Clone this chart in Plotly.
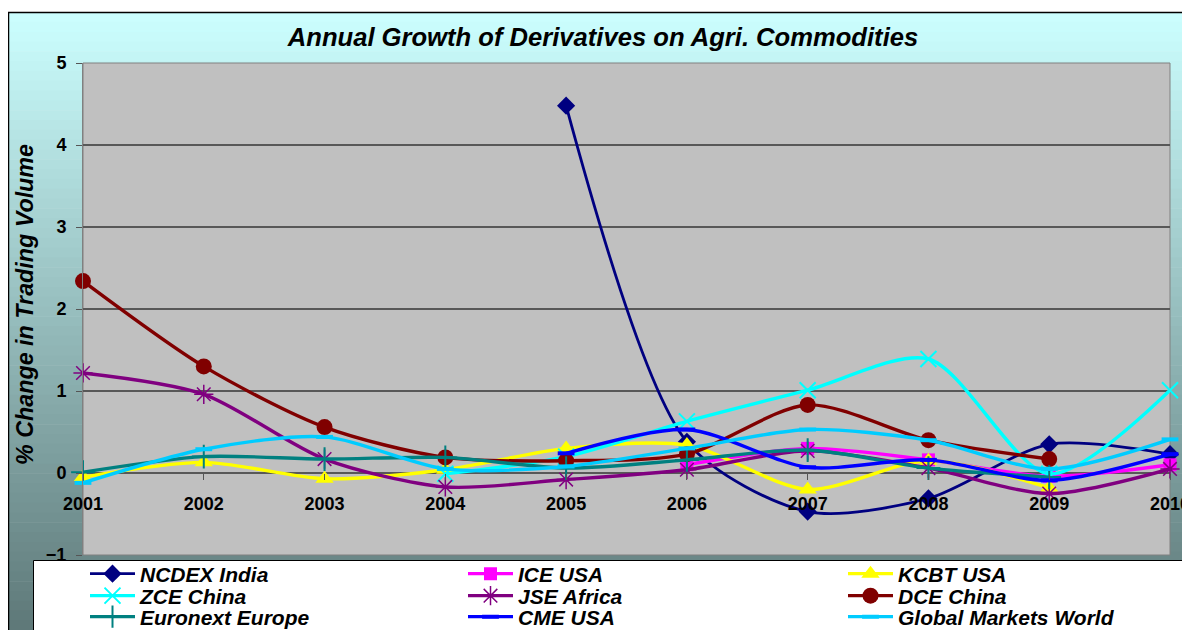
import plotly.graph_objects as go

# ---------------- data ----------------
years = [2001, 2002, 2003, 2004, 2005, 2006, 2007, 2008, 2009, 2010]
tick_labels = ["2001", "2002", "2003", "2004", "2005", "2006", "2007", "2008", "2009", "2010"]

ncdex_india = [None, None, None, None, 4.48, 0.38, -0.47, -0.31, 0.35, 0.23]
ice_usa = [None, None, None, None, None, 0.10, 0.30, 0.16, -0.04, 0.10]
kcbt_usa = [-0.05, 0.13, -0.07, 0.04, 0.30, 0.34, -0.20, 0.15, -0.18, None]
zce_china = [None, None, None, -0.01, 0.20, 0.63, 1.01, 1.39, -0.01, 1.01]
jse_africa = [1.22, 0.96, 0.17, -0.17, -0.08, 0.04, 0.27, 0.06, -0.25, 0.05]
dce_china = [2.34, 1.30, 0.56, 0.19, 0.15, 0.23, 0.83, 0.40, 0.17, None]
euronext_europe = [0.01, 0.20, 0.17, 0.19, 0.06, 0.16, 0.28, 0.06, -0.05, None]
cme_usa = [None, None, None, None, 0.24, 0.53, 0.07, 0.16, -0.09, 0.23]
global_markets = [-0.12, 0.29, 0.44, 0.05, 0.08, 0.30, 0.53, 0.40, 0.05, 0.41]

series_names = ["NCDEX India", "ICE USA", "KCBT USA", "ZCE China", "JSE Africa",
                "DCE China", "Euronext Europe", "CME USA", "Global Markets World"]
series_values = [ncdex_india, ice_usa, kcbt_usa, zce_china, jse_africa,
                 dce_china, euronext_europe, cme_usa, global_markets]

title_text = "Annual Growth of Derivatives on Agri. Commodities"
y_title_text = "% Change in Trading Volume"

# ---------------- styles ----------------
colors = ["#000080", "#FF00FF", "#FFFF00", "#00FFFF", "#800080",
          "#800000", "#008080", "#0000FF", "#00CCFF"]
symbols = ["diamond", "square", "triangle-up", "x-thin-open", "asterisk-open",
           "circle", "cross-thin-open", "line-ew-open", "line-ew-open"]
msizes = [14, 13, 16, 16, 16, 16, 17, 12, 12]
mlw = [0, 0, 0, 2, 1.5, 0, 2, 4, 4]
lwidths = [2.8, 3.4, 3.4, 3.4, 3.4, 3.4, 3.4, 3.4, 3.4]

OFF = 8                      # page body margin of the html page
FW, FH = 1190 - OFF, 630 - OFF
L, R, T, B = 75, 20, 55, 75  # plot area at page x 83..1170, y 63..555
PW = FW - L - R
PH = FH - T - B


def px_x(x):
    """page pixel x -> paper fraction"""
    return (x - OFF - L) / PW


def px_y(y):
    """page pixel y -> paper fraction"""
    return (FH - B - (y - OFF)) / PH


FONT = "Liberation Sans, Arial, sans-serif"

fig = go.Figure()

# legend placement: text start x and row centre y (page pixels)
col_text_x = [140, 518, 898]
row_y = [574, 596, 617]

for i, (name, vals) in enumerate(zip(series_names, series_values)):
    legend_id = "legend" if i == 0 else f"legend{i + 1}"
    fig.add_trace(go.Scatter(
        x=years, y=vals, name=name, mode="lines+markers",
        line=dict(color=colors[i], width=lwidths[i], shape="spline", smoothing=0.8),
        marker=dict(symbol=symbols[i], size=msizes[i], color=colors[i],
                    line=dict(width=mlw[i], color=colors[i])),
        connectgaps=False, cliponaxis=False, showlegend=True,
        legend=legend_id,
    ))

# ---------------- background shapes ----------------
shapes = []
top_c = (204, 255, 255)
bot_c = (92, 118, 118)
y0p, y1p = 12, 640
n = 64
step = (y1p - y0p) / n
for k in range(n):
    ya = y0p + k * step
    yb = ya + step + 0.6
    t = (k + 0.5) / n
    c = tuple(int(round(top_c[j] + (bot_c[j] - top_c[j]) * t)) for j in range(3))
    shapes.append(dict(type="rect", xref="paper", yref="paper", layer="below",
                       x0=px_x(8), x1=px_x(1200), y0=px_y(yb), y1=px_y(ya),
                       fillcolor=f"rgb{c}", line=dict(width=0)))
# outer frame
shapes.append(dict(type="rect", xref="paper", yref="paper", layer="below",
                   x0=px_x(8.5), x1=px_x(1200), y0=px_y(640), y1=px_y(12.5),
                   fillcolor="rgba(0,0,0,0)", line=dict(color="#000000", width=1.5)))
# plot area
shapes.append(dict(type="rect", xref="paper", yref="paper", layer="below",
                   x0=0, x1=1, y0=0, y1=1, fillcolor="#C0C0C0",
                   line=dict(color="#808080", width=1)))
# legend box
shapes.append(dict(type="rect", xref="paper", yref="paper", layer="below",
                   x0=px_x(33.5), x1=px_x(1185.5), y0=px_y(645), y1=px_y(560.5),
                   fillcolor="#FFFFFF", line=dict(color="#000000", width=1)))

layout_legends = {}
for i in range(9):
    legend_id = "legend" if i == 0 else f"legend{i + 1}"
    r, c = divmod(i, 3)
    layout_legends[legend_id] = dict(
        x=px_x(col_text_x[c] - 55), y=px_y(row_y[r]), xanchor="left", yanchor="middle",
        xref="paper", yref="paper", visible=True,
        bgcolor="rgba(0,0,0,0)", borderwidth=0, itemwidth=45,
        font=dict(family=FONT, size=21, color="#000000", weight="bold", style="italic"),
    )

fig.update_layout(
    width=FW, height=FH,
    showlegend=True,
    margin=dict(l=L, r=R, t=T, b=B, autoexpand=False),
    paper_bgcolor="#FFFFFF", plot_bgcolor="rgba(0,0,0,0)",
    shapes=shapes,
    title=dict(text=title_text, x=px_x(603), xref="paper", xanchor="center",
               y=1 - (37 - OFF) / FH, yref="container", yanchor="middle",
               font=dict(family=FONT, size=25.6, color="#000000", weight="bold", style="italic")),
    xaxis=dict(range=[2001, 2010], tickmode="array", tickvals=years, ticktext=tick_labels,
               anchor="free", position=1 / 6, showgrid=False, zeroline=False, showline=False,
               ticks="outside", ticklen=6, tickcolor="#555555", ticklabelstandoff=8,
               ticklabeloverflow="allow",
               tickfont=dict(family=FONT, size=18, color="#000000", weight="bold")),
    yaxis=dict(range=[-1, 5], dtick=1, showgrid=True, gridcolor="#585858", gridwidth=1.6,
               zeroline=True, zerolinecolor="#585858", zerolinewidth=1.6,
               showline=True, linecolor="#808080", linewidth=1,
               ticks="outside", ticklen=6, tickcolor="#555555", ticklabelstandoff=6,
               tickfont=dict(family=FONT, size=18, color="#000000", weight="bold")),
    annotations=[dict(text=y_title_text, xref="paper", yref="paper",
                      x=px_x(25), y=px_y(305), xanchor="center", yanchor="middle",
                      textangle=-90, showarrow=False,
                      font=dict(family=FONT, size=23.3, color="#000000", weight="bold", style="italic"))],
    **layout_legends,
)

fig.write_html("out.html")
